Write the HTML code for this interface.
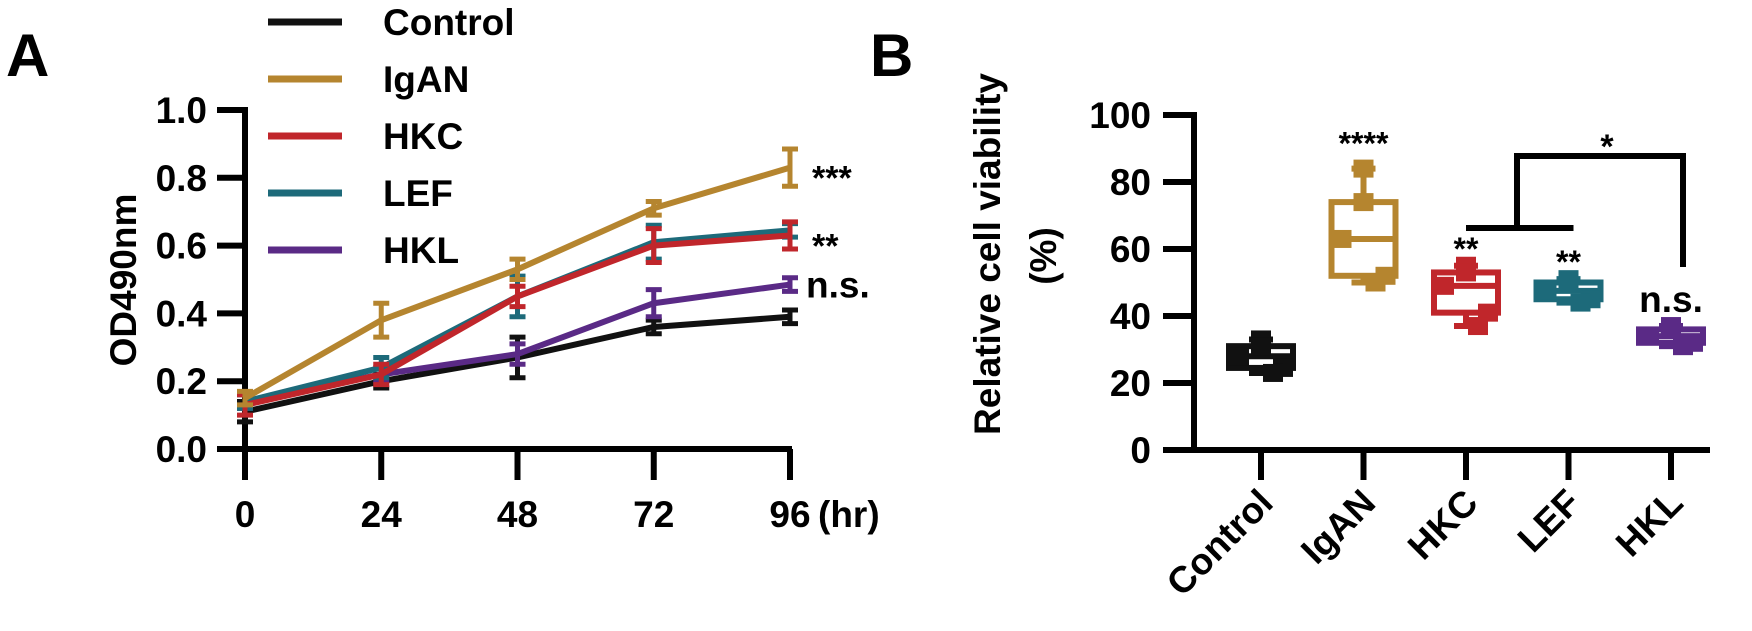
<!DOCTYPE html>
<html><head><meta charset="utf-8"><style>
html,body{margin:0;padding:0;background:#fff;}
svg{display:block;font-family:"Liberation Sans",Arial,sans-serif;font-weight:bold;}
</style></head><body>
<svg id="fig" width="1752" height="631" viewBox="0 0 1752 631" xmlns="http://www.w3.org/2000/svg">
<text x="6" y="76" font-size="60">A</text>
<text x="870" y="76" font-size="60">B</text>
<g id="legend"></g>
<g id="pa"></g>
<g id="pb"></g>
</svg>
<script>
// Panel A data
const hours = [0, 24, 48, 72, 96];
const seriesNames = ["Control", "IgAN", "HKC", "LEF", "HKL"];
const seriesColors = ["#111111", "#b5852f", "#c0262b", "#1d6a7a", "#5a2a86"];
const controlVals = [0.11, 0.20, 0.27, 0.36, 0.39];
const iganVals = [0.15, 0.38, 0.53, 0.71, 0.83];
const hkcVals = [0.13, 0.22, 0.45, 0.60, 0.63];
const lefVals = [0.14, 0.24, 0.45, 0.61, 0.645];
const hklVals = [0.14, 0.22, 0.28, 0.43, 0.485];
const controlErr = [0.03, 0.02, 0.06, 0.02, 0.02];
const iganErr = [0.02, 0.05, 0.03, 0.02, 0.055];
const hkcErr = [0.03, 0.03, 0.03, 0.05, 0.04];
const lefErr = [0.02, 0.03, 0.06, 0.05, 0.02];
const hklErr = [0.02, 0.02, 0.03, 0.04, 0.02];
const yTicksA = ["0.0", "0.2", "0.4", "0.6", "0.8", "1.0"];
const sigA = ["***", "**", "n.s."];
// Panel B data
const groups = ["Control", "IgAN", "HKC", "LEF", "HKL"];
const boxMin = [23, 50, 37, 44, 31];
const boxQ1 = [24.5, 52, 41, 45, 32];
const boxMed = [28, 63, 49, 47.5, 34];
const boxQ3 = [31, 74, 53, 50, 36];
const boxMax = [33, 84, 55, 51, 37];
const sigB = ["", "****", "**", "**", "n.s."];
const yTicksB = ["0", "20", "40", "60", "80", "100"];

const NS = "http://www.w3.org/2000/svg";
function mk(parent, tag, attrs, txt) {
  const e = document.createElementNS(NS, tag);
  for (const k in attrs) e.setAttribute(k, attrs[k]);
  if (txt !== undefined) e.textContent = txt;
  parent.appendChild(e);
  return e;
}
// ---- Legend
const lg = document.getElementById("legend");
seriesNames.forEach((n, i) => {
  const y = 22 + i * 57;
  const l = mk(lg, "line", {x1: 268, x2: 342, y1: y, y2: y, stroke: seriesColors[i], "stroke-width": 7});
  
  
  const t = mk(lg, "text", {x: 383, y: y + 13, "font-size": 37}, n);
  
  
});
// ---- Panel A
const pa = document.getElementById("pa");
const xA = h => 245 + (h / 96) * 545;
const yA = v => 449 - v * 339;
const axA = mk(pa, "path", {d: `M217 ${yA(1)} H245 V452 M217 449 H${xA(96)+2}`, fill: "none", stroke: "#000", "stroke-width": 6});


yTicksA.forEach((t, i) => {
  const v = i * 0.2;
  const tk = mk(pa, "line", {x1: 217, x2: 245, y1: yA(v), y2: yA(v), stroke: "#000", "stroke-width": 6});
  
  
  const tl = mk(pa, "text", {x: 207, y: yA(v) + 13, "font-size": 37, "text-anchor": "end"}, t);
  
  
});
hours.forEach(h => {
  const tk = mk(pa, "line", {x1: xA(h), x2: xA(h), y1: 449, y2: 480, stroke: "#000", "stroke-width": 6});
  
  
  const tl = mk(pa, "text", {x: xA(h), y: 527, "font-size": 37, "text-anchor": "middle"}, String(h));
  
  
});
const hr = mk(pa, "text", {x: 818, y: 527, "font-size": 37}, "(hr)");


const yta = mk(pa, "text", {x: 0, y: 0, "font-size": 37, "text-anchor": "middle", transform: "translate(136,280) rotate(-90)"}, "OD490nm");


const allVals = [controlVals, iganVals, hkcVals, lefVals, hklVals];
const allErr = [controlErr, iganErr, hkcErr, lefErr, hklErr];
[0, 4, 3, 2, 1].forEach(si => {
  const g = mk(pa, "g", {});
  
  
  const c = seriesColors[si];
  const pts = hours.map((h, i) => xA(h) + "," + yA(allVals[si][i])).join(" ");
  mk(g, "polyline", {points: pts, fill: "none", stroke: c, "stroke-width": 6, "stroke-linejoin": "round"});
  hours.forEach((h, i) => {
    const x = xA(h), v = allVals[si][i], e = allErr[si][i];
    const y1 = yA(v + e), y2 = yA(v - e);
    const eb = mk(g, "path", {d: `M${x} ${y1} V${y2} M${x-8} ${y1} H${x+8} M${x-8} ${y2} H${x+8}`, stroke: c, "stroke-width": 5, fill: "none"});
    
    
  });
});
const sigIdx = [1, 2, 4];
sigA.forEach((s, i) => {
  const v = allVals[sigIdx[i]][4];
  const t = mk(pa, "text", {x: s === "n.s." ? 806 : 812, y: yA(v) + (s === "n.s." ? 13 : 22), "font-size": s === "n.s." ? 37 : 34}, s);
  
  
});
// ---- Panel B
const pb = document.getElementById("pb");
const xB = i => 1261 + i * 102.5;
const yB = v => 450 - v * 3.35;
const axB = mk(pb, "path", {d: `M1163 ${yB(100)} H1194 V453 M1163 450 H1710`, fill: "none", stroke: "#000", "stroke-width": 6});


yTicksB.forEach((t, i) => {
  const v = i * 20;
  const tk = mk(pb, "line", {x1: 1163, x2: 1194, y1: yB(v), y2: yB(v), stroke: "#000", "stroke-width": 6});
  
  
  const tl = mk(pb, "text", {x: 1151, y: yB(v) + 13, "font-size": 37, "text-anchor": "end"}, t);
  
  
});
const ytb = mk(pb, "text", {x: 0, y: 0, "font-size": 37, "text-anchor": "middle", transform: "translate(1000,254) rotate(-90)"}, "Relative cell viability");


const ytb2 = mk(pb, "text", {x: 0, y: 0, "font-size": 37, "text-anchor": "middle", transform: "translate(1056,256) rotate(-90)"}, "(%)");


groups.forEach((gname, i) => {
  const x = xB(i), c = seriesColors[i];
  const tk = mk(pb, "line", {x1: x, x2: x, y1: 450, y2: 480, stroke: "#000", "stroke-width": 6});
  
  
  const tl = mk(pb, "text", {x: 0, y: 0, "font-size": 37, "text-anchor": "end", transform: `translate(${x+14},505) rotate(-45)`}, gname);
  
  
  const g = mk(pb, "g", {});
  
  
  const w = 32;
  mk(g, "rect", {x: x - w, y: yB(boxQ3[i]), width: 2 * w, height: yB(boxQ1[i]) - yB(boxQ3[i]), fill: "#fff", stroke: c, "stroke-width": 6});
  mk(g, "path", {d: `M${x-w} ${yB(boxMed[i])} H${x+w} M${x} ${yB(boxQ3[i])} V${yB(boxMax[i])} M${x-12} ${yB(boxMax[i])} H${x+12} M${x} ${yB(boxQ1[i])} V${yB(boxMin[i])} M${x-12} ${yB(boxMin[i])} H${x+12}`, stroke: c, "stroke-width": 6, fill: "none"});
  [boxMax[i], boxQ3[i], boxMed[i], boxQ1[i], boxMin[i]].forEach((v, k) => {
    const dx = [0, 0, -w + 10, w - 10, 12][k];
    const p = mk(g, "rect", {x: x + dx - 10, y: yB(v) - 9, width: 20, height: 18, fill: c});
    
    
  });
  if (sigB[i]) {
    const s = mk(pb, "text", {x: x, y: sigB[i] === "n.s." ? 312 : yB(boxMax[i]) - 14 + (sigB[i] === "****" ? 0 : 8), "font-size": sigB[i] === "n.s." ? 37 : 32, "text-anchor": "middle"}, sigB[i]);
    
    
  }
});
const br = mk(pb, "path", {d: `M${xB(2)} 228 H${xB(3)+5} M1517 228 V156 H1683 V267`, fill: "none", stroke: "#000", "stroke-width": 6});


const st = mk(pb, "text", {x: 1607, y: 158, "font-size": 34, "text-anchor": "middle"}, "*");


</script>
</body></html>
